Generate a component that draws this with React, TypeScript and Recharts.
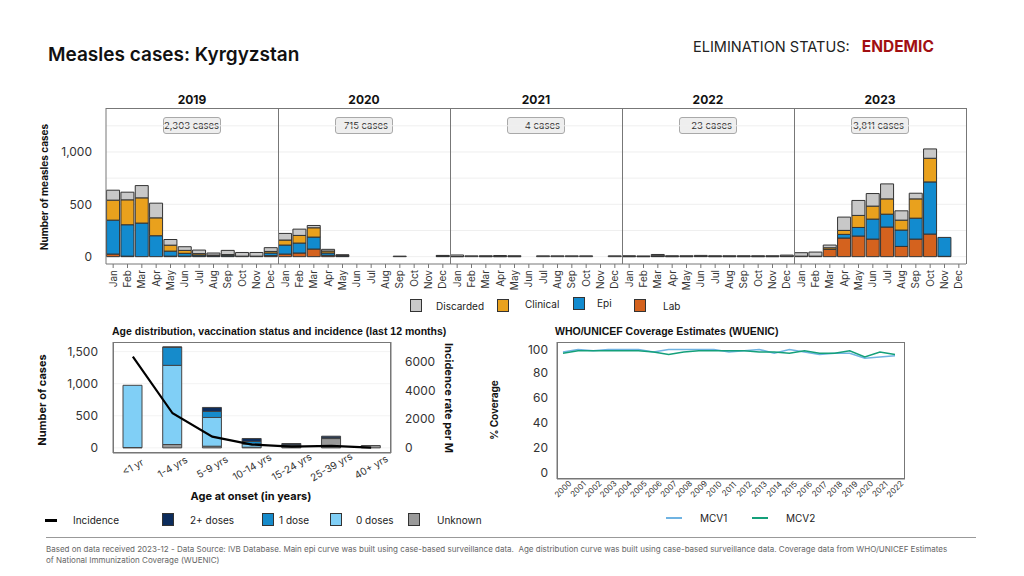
import React from 'react'
import { BarChart, Bar, XAxis, YAxis, CartesianGrid, ComposedChart, Line, LineChart } from 'recharts'

const FONT = 'Inter, "Noto Sans", sans-serif'
const ARIAL = '"Liberation Sans", Arial, sans-serif'

// ---- main epi curve (monthly, 2019-2023) ----
const months = ['Jan', 'Feb', 'Mar', 'Apr', 'May', 'Jun', 'Jul', 'Aug', 'Sep', 'Oct', 'Nov', 'Dec']
const years = ['2019', '2020', '2021', '2022', '2023']
const yearTotals = ['2,303 cases', '715 cases', '4 cases', '23 cases', '3,811 cases']

const labCases = [
  25, 5, 0, 0, 5, 5, 5, 5, 5, 0, 0, 10, // 2019
  25, 35, 73, 13, 5, 0, 0, 0, 0, 0, 0, 3, // 2020
  0, 0, 0, 1, 0, 0, 0, 0, 0, 0, 0, 0, // 2021
  0, 0, 3, 0, 0, 0, 0, 0, 0, 0, 0, 2, // 2022
  5, 5, 70, 178, 197, 168, 283, 98, 168, 216, 3, 0, // 2023
]
const epiCases = [
  324, 300, 321, 200, 48, 27, 11, 5, 10, 5, 5, 25,
  86, 95, 114, 22, 5, 0, 0, 0, 0, 0, 0, 4,
  1, 0, 1, 0, 1, 0, 0, 0, 0, 0, 0, 0,
  1, 1, 5, 1, 1, 2, 1, 1, 1, 1, 1, 3,
  0, 0, 0, 35, 82, 191, 123, 156, 200, 498, 181, 0,
]
const clinicalCases = [
  191, 238, 241, 171, 57, 28, 13, 5, 5, 0, 0, 15,
  48, 73, 89, 19, 3, 0, 0, 0, 0, 0, 0, 0,
  0, 0, 0, 0, 0, 0, 0, 0, 0, 0, 0, 0,
  0, 0, 1, 0, 0, 0, 0, 0, 0, 0, 0, 0,
  0, 0, 15, 38, 115, 124, 146, 95, 184, 226, 0, 0,
]
const discardedCases = [
  95, 73, 117, 140, 54, 35, 34, 20, 40, 35, 35, 36,
  63, 60, 22, 16, 5, 0, 0, 0, 5, 0, 0, 5,
  15, 8, 8, 10, 8, 0, 8, 8, 8, 8, 0, 8,
  8, 6, 12, 8, 8, 10, 8, 8, 8, 8, 8, 10,
  33, 39, 26, 127, 143, 120, 143, 89, 54, 89, 0, 0,
]

// ---- age distribution (last 12 months) ----
const ageGroups = ['<1 yr', '1-4 yrs', '5-9 yrs', '10-14 yrs', '15-24 yrs', '25-39 yrs', '40+ yrs']
const unknownDoses = [5, 52, 26, 10, 30, 145, 36]
const zeroDoses = [970, 1234, 448, 50, 10, 5, 0]
const oneDose = [0, 282, 94, 40, 8, 5, 0]
const twoPlusDoses = [0, 5, 62, 46, 20, 27, 0]
const incidence = [6350, 2400, 770, 220, 70, 120, 10]

// ---- WUENIC coverage ----
const coverageYears = ['2000', '2001', '2002', '2003', '2004', '2005', '2006', '2007', '2008', '2009', '2010', '2011',
  '2012', '2013', '2014', '2015', '2016', '2017', '2018', '2019', '2020', '2021', '2022']
const mcv1 = [97, 99, 98, 99, 99, 99, 97, 99, 99, 99, 99, 97, 98, 99, 96, 99, 97, 95, 96, 96, 92, 93, 94]
const mcv2 = [96, 98, 98, 98, 98, 98, 97, 95, 97, 98, 98, 98, 98, 97, 97, 96, 98, 96, 96, 98, 93, 97, 95]

const C = {
  discarded: '#C8C8C8',
  clinical: '#E9A11D',
  epi: '#128BCF',
  lab: '#D4621E',
  unknown: '#9A9A9A',
  zero: '#80CFF6',
  one: '#168BCB',
  two: '#0C2C5C',
  mcv1: '#6FB3E2',
  mcv2: '#14A07A',
}

const PANEL_W = 172
const PLOT_LEFT = 106
const PLOT_TOP = 108
const PLOT_H = 156
const YAXIS_W = 60
const XAXIS_H = 34

const yearData = (i: number) =>
  months.map((m, k) => ({
    month: m,
    lab: labCases[i * 12 + k],
    epi: epiCases[i * 12 + k],
    clinical: clinicalCases[i * 12 + k],
    discarded: discardedCases[i * 12 + k],
  }))

const ageData = ageGroups.map((a, i) => ({
  age: a,
  unknown: unknownDoses[i],
  zero: zeroDoses[i],
  one: oneDose[i],
  two: twoPlusDoses[i],
  incidence: incidence[i],
}))

const coverageData = coverageYears.map((y, i) => ({ year: y, mcv1: mcv1[i], mcv2: mcv2[i] }))

const MonthTick = (props: any) => {
  const { x, y, payload } = props
  return (
    <text x={x} y={y} dy="0.35em" textAnchor="end" transform={`rotate(-90 ${x} ${y})`}
      fontSize={10} fill="#333" fontFamily={FONT}>
      {payload.value}
    </text>
  )
}

const AgeTick = (props: any) => {
  const { x, y, payload } = props
  return (
    <g transform={`translate(${x},${y + 6}) rotate(-30)`}>
      <text textAnchor="middle" dy="0.35em" fontSize={10} fill="#333" fontFamily={FONT}>{payload.value}</text>
    </g>
  )
}

const YearTick = (props: any) => {
  const { x, y, payload } = props
  return (
    <g transform={`translate(${x},${y + 2}) rotate(-45)`}>
      <text textAnchor="middle" dy="0.35em" fontSize={8} fill="#333" fontFamily={FONT}>{payload.value}</text>
    </g>
  )
}

const abs = (left: number, top: number, extra: React.CSSProperties = {}): React.CSSProperties => ({
  position: 'absolute', left, top, ...extra,
})

const Swatch = ({ left, top, color }: { left: number; top: number; color: string }) => (
  <div style={abs(left, top, { width: 12, height: 13, background: color, border: '1px solid #333', boxSizing: 'border-box' })} />
)

const Txt = ({ left, top, children, style }: { left: number; top: number; children: React.ReactNode; style?: React.CSSProperties }) => (
  <div style={abs(left, top, { fontSize: 10, color: '#222', whiteSpace: 'nowrap', lineHeight: '12px', ...style })}>{children}</div>
)

export default function App() {
  return (
    <div style={{ position: 'absolute', left: 0, top: 0, width: 1024, height: 576, background: '#fff', overflow: 'hidden', fontFamily: FONT }}>
      {/* header */}
      <div style={abs(48, 43, { fontSize: 19, fontWeight: 600, color: '#111', whiteSpace: 'nowrap' })}>Measles cases: Kyrgyzstan</div>
      <div style={abs(693, 37, { fontSize: 14.5, color: '#222', whiteSpace: 'nowrap' })}>
        ELIMINATION STATUS: <span style={{ color: '#A10F12', fontWeight: 700, fontSize: 15.5, marginLeft: 8 }}>ENDEMIC</span>
      </div>

      {/* year headers and case boxes */}
      {years.map((yr, i) => (
        <React.Fragment key={yr}>
          <div style={abs(PLOT_LEFT + i * PANEL_W, 92, { width: PANEL_W, textAlign: 'center', fontSize: 12, fontWeight: 700, color: '#111' })}>{yr}</div>
          <div style={abs(PLOT_LEFT + i * PANEL_W + PANEL_W / 2 - 29, 117, {
            width: 58, height: 17, boxSizing: 'border-box', border: '1px solid #a9a9a9', borderRadius: 3, background: '#eeeeee',
            fontSize: 9.5, color: '#333', textAlign: 'right', paddingRight: 4, lineHeight: '15px', whiteSpace: 'nowrap',
          })}>{yearTotals[i]}</div>
        </React.Fragment>
      ))}

      {/* top epi curve panels */}
      {years.map((yr, i) => {
        const first = i === 0
        return (
          <div key={yr} style={abs(PLOT_LEFT + i * PANEL_W - (first ? YAXIS_W : 0), PLOT_TOP)}>
            <BarChart width={PANEL_W + (first ? YAXIS_W : 0)} height={PLOT_H + XAXIS_H} data={yearData(i)}
              margin={{ top: 0, right: 0, bottom: 0, left: 0 }} barCategoryGap="4%">
              <CartesianGrid vertical={false} stroke="#efefef" horizontalValues={[0, 250, 500, 750, 1000, 1250]} />
              <XAxis dataKey="month" height={XAXIS_H} interval={0} tick={MonthTick} tickSize={4}
                axisLine={{ stroke: '#777' }} tickLine={{ stroke: '#777' }} />
              <YAxis hide={!first} width={YAXIS_W} domain={[-70, 1420]} ticks={[0, 500, 1000]}
                tickFormatter={(v: number) => v.toLocaleString('en-US')} axisLine={{ stroke: '#777' }} tickLine={false}
                tickMargin={8} tick={{ fontSize: 12, fill: '#333', fontFamily: FONT }} />
              <Bar dataKey="lab" stackId="a" fill={C.lab} stroke="#333" strokeWidth={1} isAnimationActive={false} />
              <Bar dataKey="epi" stackId="a" fill={C.epi} stroke="#333" strokeWidth={1} isAnimationActive={false} />
              <Bar dataKey="clinical" stackId="a" fill={C.clinical} stroke="#333" strokeWidth={1} isAnimationActive={false} />
              <Bar dataKey="discarded" stackId="a" fill={C.discarded} stroke="#333" strokeWidth={1} isAnimationActive={false} />
            </BarChart>
          </div>
        )
      })}
      {/* panel frame */}
      <div style={abs(PLOT_LEFT, PLOT_TOP, { width: PANEL_W * 5, height: 1, background: '#777' })} />
      {years.map((yr, i) => (
        <div key={'sep' + yr} style={abs(PLOT_LEFT + (i + 1) * PANEL_W, PLOT_TOP, { width: 1, height: PLOT_H, background: '#777' })} />
      ))}
      <div style={abs(44, 187, { transform: 'translate(-50%,-50%) rotate(-90deg)', fontSize: 10, fontWeight: 700, whiteSpace: 'nowrap', color: '#111' })}>
        Number of measles cases
      </div>

      {/* top legend */}
      <Swatch left={410} top={299} color={C.discarded} />
      <Txt left={436} top={300}>Discarded</Txt>
      <Swatch left={497} top={299} color={C.clinical} />
      <Txt left={525} top={298}>Clinical</Txt>
      <Swatch left={573} top={297} color={C.epi} />
      <Txt left={597} top={297}>Epi</Txt>
      <Swatch left={634} top={299} color={C.lab} />
      <Txt left={663} top={300}>Lab</Txt>

      {/* age distribution chart */}
      <div style={abs(112, 325, { fontSize: 10.5, fontWeight: 700, fontFamily: ARIAL, color: '#111', whiteSpace: 'nowrap' })}>
        Age distribution, vaccination status and incidence (last 12 months)
      </div>
      <div style={abs(63, 342)}>
        <ComposedChart width={378} height={151} data={ageData} margin={{ top: 0, right: 0, bottom: 0, left: 0 }}>
          <CartesianGrid vertical={false} stroke="#f3f3f3" yAxisId="l" />
          <XAxis dataKey="age" height={40} interval={0} tick={AgeTick} tickLine={false} axisLine={{ stroke: '#777' }} />
          <YAxis yAxisId="l" width={50} domain={[-80, 1650]} ticks={[0, 500, 1000, 1500]}
            tickFormatter={(v: number) => v.toLocaleString('en-US')} axisLine={{ stroke: '#777' }} tickLine={false}
            tickMargin={9} tick={{ fontSize: 12, fill: '#333', fontFamily: FONT }} />
          <YAxis yAxisId="r" orientation="right" width={50} domain={[-370, 7370]} ticks={[0, 2000, 4000, 6000]}
            axisLine={{ stroke: '#777' }} tickLine={false} tickMargin={8} tick={{ fontSize: 12, fill: '#333', fontFamily: FONT }} />
          <Bar yAxisId="l" dataKey="unknown" stackId="v" barSize={19} fill={C.unknown} stroke="#444" isAnimationActive={false} />
          <Bar yAxisId="l" dataKey="zero" stackId="v" barSize={19} fill={C.zero} stroke="#444" isAnimationActive={false} />
          <Bar yAxisId="l" dataKey="one" stackId="v" barSize={19} fill={C.one} stroke="#444" isAnimationActive={false} />
          <Bar yAxisId="l" dataKey="two" stackId="v" barSize={19} fill={C.two} stroke="#444" isAnimationActive={false} />
          <Line yAxisId="r" dataKey="incidence" type="linear" stroke="#000" strokeWidth={2.2} dot={false} isAnimationActive={false} />
        </ComposedChart>
      </div>
      <div style={abs(113, 342, { width: 278, height: 111, border: '1px solid #777', boxSizing: 'border-box', pointerEvents: 'none' })} />
      <div style={abs(42, 400, { transform: 'translate(-50%,-50%) rotate(-90deg)', fontSize: 11, fontWeight: 700, whiteSpace: 'nowrap', color: '#111' })}>Number of cases</div>
      <div style={abs(449, 398, { transform: 'translate(-50%,-50%) rotate(90deg)', fontSize: 11, fontWeight: 700, whiteSpace: 'nowrap', color: '#111' })}>Incidence rate per M</div>
      <div style={abs(251, 496, { transform: 'translate(-50%,-50%)', fontSize: 11, fontWeight: 700, whiteSpace: 'nowrap', color: '#111' })}>Age at onset (in years)</div>

      {/* bottom-left legend */}
      <div style={abs(45, 519, { width: 12, height: 3, background: '#000' })} />
      <Txt left={73} top={514}>Incidence</Txt>
      <Swatch left={162} top={513} color={C.two} />
      <Txt left={190} top={514}>2+ doses</Txt>
      <Swatch left={262} top={513} color={C.one} />
      <Txt left={279} top={514}>1 dose</Txt>
      <Swatch left={330} top={513} color={C.zero} />
      <Txt left={356} top={514}>0 doses</Txt>
      <Swatch left={408} top={513} color={C.unknown} />
      <Txt left={437} top={514}>Unknown</Txt>

      {/* WUENIC coverage chart */}
      <div style={abs(555, 325, { fontSize: 10.5, fontWeight: 700, fontFamily: ARIAL, color: '#111', whiteSpace: 'nowrap' })}>
        WHO/UNICEF Coverage Estimates (WUENIC)
      </div>
      <div style={abs(517, 342)}>
        <LineChart width={388} height={162} data={coverageData} margin={{ top: 0, right: 0, bottom: 0, left: 0 }}>
          <XAxis dataKey="year" height={25} interval={0} tick={YearTick} tickLine={false} axisLine={{ stroke: '#777' }}
            padding={{ left: 6, right: 10 }} />
          <YAxis width={40} domain={[-5, 105]} ticks={[0, 20, 40, 60, 80, 100]} axisLine={{ stroke: '#777' }} tickLine={false}
            tickMargin={3} tick={{ fontSize: 12, fill: '#333', fontFamily: FONT }} />
          <Line dataKey="mcv1" type="linear" stroke={C.mcv1} strokeWidth={1.6} dot={false} isAnimationActive={false} />
          <Line dataKey="mcv2" type="linear" stroke={C.mcv2} strokeWidth={1.6} dot={false} isAnimationActive={false} />
        </LineChart>
      </div>
      <div style={abs(557, 342, { width: 348, height: 137, border: '1px solid #777', boxSizing: 'border-box', pointerEvents: 'none' })} />
      <div style={abs(494, 410, { transform: 'translate(-50%,-50%) rotate(-90deg)', fontSize: 10, fontWeight: 700, whiteSpace: 'nowrap', color: '#111' })}>% Coverage</div>

      {/* coverage legend */}
      <div style={abs(666, 517, { width: 16, height: 2, background: C.mcv1 })} />
      <Txt left={700} top={512}>MCV1</Txt>
      <div style={abs(752, 517, { width: 16, height: 2, background: C.mcv2 })} />
      <Txt left={786} top={512}>MCV2</Txt>

      {/* footer */}
      <div style={abs(46, 537, { width: 930, height: 1, background: '#999' })} />
      <div style={abs(46, 544, { fontSize: 8, lineHeight: '11px', color: '#666', whiteSpace: 'nowrap' })}>
        Based on data received 2023-12 - Data Source: IVB Database. Main epi curve was built using case-based surveillance data.&nbsp; Age distribution curve was built using case-based surveillance data. Coverage data from WHO/UNICEF Estimates
        <br />
        of National Immunization Coverage (WUENIC)
      </div>
    </div>
  )
}
